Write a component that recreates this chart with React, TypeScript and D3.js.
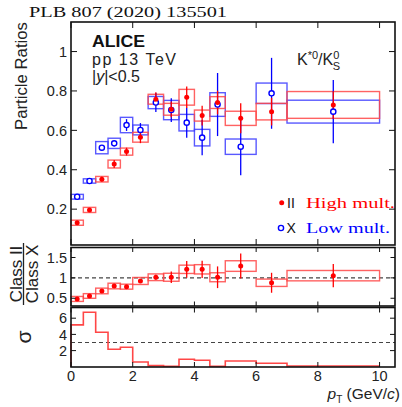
import React from "react";
import * as d3 from "d3";

const binEdges = [0, 0.4, 0.8, 1.2, 1.6, 2.0, 2.5, 3.0, 3.5, 4.0, 4.5, 5.0, 6.0, 7.0, 10.0];

const highVals = [0.131, 0.196, 0.352, 0.429, 0.492, 0.565, 0.758, 0.707, 0.768, 0.675, 0.741, 0.661, 0.695, 0.729];
const highStat = [0.008, 0.008, 0.012, 0.02, 0.02, 0.03, 0.035, 0.04, 0.055, 0.05, 0.06, 0.076, 0.07, 0.07];
const highSys = [0.013, 0.013, 0.014, 0.02, 0.018, 0.025, 0.025, 0.03, 0.04, 0.028, 0.03, 0.036, 0.042, 0.068];

const lowVals = [0.263, 0.343, 0.512, 0.534, 0.627, 0.602, 0.741, 0.703, 0.639, 0.563, 0.731, 0.517, 0.788, 0.695];
const lowStat = [0.006, 0.006, 0.012, 0.015, 0.03, 0.035, 0.048, 0.06, 0.076, 0.09, 0.16, 0.145, 0.18, 0.16];
const lowSys = [0.012, 0.011, 0.031, 0.026, 0.039, 0.025, 0.031, 0.049, 0.042, 0.042, 0.06, 0.039, 0.052, 0.058];

const ratioVals = [0.483, 0.556, 0.679, 0.8, 0.784, 0.924, 1.015, 1.015, 1.21, 1.21, 1.015, 1.29, 0.88, 1.054];
const ratioStat = [0.03, 0.03, 0.035, 0.035, 0.04, 0.05, 0.06, 0.143, 0.204, 0.212, 0.266, 0.306, 0.245, 0.286];
const ratioSys = [0.061, 0.057, 0.069, 0.069, 0.061, 0.086, 0.082, 0.098, 0.102, 0.114, 0.11, 0.13, 0.09, 0.127];

const sigmaVals = [5.17, 6.74, 4.27, 2.16, 2.41, 0.6, 0.14, 0.06, 0.93, 0.8, 0.06, 0.72, 0.43, 0.1];

const xTicks = [0, 2, 4, 6, 8, 10];
const topTicks = [0.2, 0.4, 0.6, 0.8, 1];
const topTickLabels = ["0.2", "0.4", "0.6", "0.8", "1"];
const midTicks = [0.5, 1, 1.5];
const midTickLabels = ["0.5", "1", "1.5"];
const sigTicks = [2, 4, 6];
const sigTickLabels = ["2", "4", "6"];

const RED = "#ff0000";
const BLUE = "#0000ff";
const RED_BOX = "rgb(255,70,70)";
const BLUE_BOX = "rgb(60,60,255)";
const SANS = "'Liberation Sans', Arial, Helvetica, sans-serif";
const SERIF = "'Liberation Serif', 'DejaVu Serif', serif";

export default function App() {
  const W = 402, H = 407;
  const x0 = 71, x1 = 395;
  const x = d3.scaleLinear().domain([0, 10.5]).range([x0, x1]);
  const yTop = d3.scaleLinear().domain([0.018, 1.15]).range([245, 22]);
  const yMid = d3.scaleLinear().domain([0.31, 1.745]).range([306, 247.5]);
  const ySig = d3.scaleLinear().domain([0, 7.32]).range([366.8, 307.5]);

  const centers = binEdges.slice(0, -1).map((e, i) => (e + binEdges[i + 1]) / 2);

  const panels = [
    { y: yTop, top: 22, bottom: 245, ticks: topTicks, labels: topTickLabels, tl: 6 },
    { y: yMid, top: 247.5, bottom: 306, ticks: midTicks, labels: midTickLabels, tl: 4.5 },
    { y: ySig, top: 307.5, bottom: 367, ticks: sigTicks, labels: sigTickLabels, tl: 5 },
  ];

  const sigPts: [number, number][] = [[0, 0]];
  sigmaVals.forEach((v, i) => sigPts.push([binEdges[i], v]));
  sigPts.push([binEdges[binEdges.length - 1], sigmaVals[sigmaVals.length - 1]]);
  const sigLine = d3
    .line<[number, number]>()
    .x((d) => x(d[0]))
    .y((d) => ySig(d[1]))
    .curve(d3.curveStepAfter);

  const boxes = (vals: number[], sys: number[], yS: any, color: string, key: string) =>
    vals.map((v, i) => (
      <rect
        key={key + i}
        x={x(binEdges[i])}
        width={x(binEdges[i + 1]) - x(binEdges[i])}
        y={yS(v + sys[i])}
        height={yS(v - sys[i]) - yS(v + sys[i])}
        fill="none"
        stroke={color}
        strokeWidth={1.4}
        strokeOpacity={0.85}
      />
    ));

  const errs = (vals: number[], stat: number[], yS: any, color: string, key: string) =>
    vals.map((v, i) => (
      <line
        key={key + i}
        x1={x(centers[i])}
        x2={x(centers[i])}
        y1={yS(v - stat[i])}
        y2={yS(v + stat[i])}
        stroke={color}
        strokeWidth={1.3}
      />
    ));

  return (
    <svg width={W} height={H} style={{ position: "absolute", left: 0, top: 0, background: "#fff" }}>
      <rect x={0} y={0} width={W} height={H} fill="#fff" />
      <text x={29} y={17} fontFamily={SERIF} fontSize={15} textLength={198} lengthAdjust="spacingAndGlyphs" fill="#111">
        PLB 807 (2020) 135501
      </text>

      {/* Top panel content */}
      {boxes(lowVals, lowSys, yTop, BLUE_BOX, "lb")}
      {boxes(highVals, highSys, yTop, RED_BOX, "hb")}
      {errs(lowVals, lowStat, yTop, BLUE, "le")}
      {errs(highVals, highStat, yTop, RED, "he")}
      {lowVals.map((v, i) => (
        <circle key={"lc" + i} cx={x(centers[i])} cy={yTop(v)} r={2.6} fill="#fff" stroke={BLUE} strokeWidth={1.4} />
      ))}
      {highVals.map((v, i) => (
        <circle key={"hc" + i} cx={x(centers[i])} cy={yTop(v)} r={2.5} fill={RED} />
      ))}

      {/* Middle panel content */}
      <line x1={x0} x2={x1} y1={yMid(1)} y2={yMid(1)} stroke="#444" strokeWidth={1.2} strokeDasharray="4 3" />
      {boxes(ratioVals, ratioSys, yMid, RED_BOX, "rb")}
      {errs(ratioVals, ratioStat, yMid, RED, "re")}
      {ratioVals.map((v, i) => (
        <circle key={"rc" + i} cx={x(centers[i])} cy={yMid(v)} r={2.5} fill={RED} />
      ))}

      {/* Sigma panel content */}
      <line x1={x0} x2={x1} y1={ySig(3)} y2={ySig(3)} stroke="#444" strokeWidth={1.2} strokeDasharray="4 3" />
      <path d={sigLine(sigPts) || ""} fill="none" stroke={RED_BOX} strokeWidth={1.6} />

      {/* Frames, ticks */}
      {panels.map((p, pi) => (
        <g key={"p" + pi}>
          <rect x={x0} y={p.top} width={x1 - x0} height={p.bottom - p.top} fill="none" stroke="#111" strokeWidth={1.6} />
          {xTicks.map((t) => (
            <g key={"xt" + t}>
              <line x1={x(t)} x2={x(t)} y1={p.bottom} y2={p.bottom - p.tl} stroke="#111" strokeWidth={1} />
              <line x1={x(t)} x2={x(t)} y1={p.top} y2={p.top + p.tl} stroke="#111" strokeWidth={1} />
            </g>
          ))}
          {p.ticks.map((t, i) => (
            <g key={"yt" + t}>
              <line x1={x0} x2={x0 + p.tl} y1={p.y(t)} y2={p.y(t)} stroke="#111" strokeWidth={1} />
              <line x1={x1} x2={x1 - p.tl} y1={p.y(t)} y2={p.y(t)} stroke="#111" strokeWidth={1} />
              <text x={67} y={p.y(t)} dy="0.36em" textAnchor="end" fontFamily={SANS} fontSize={14.5} fill="#222">
                {p.labels[i]}
              </text>
            </g>
          ))}
        </g>
      ))}

      {xTicks.map((t) => (
        <text key={"xl" + t} x={x(t)} y={381} textAnchor="middle" fontFamily={SANS} fontSize={14.5} fill="#222">
          {t}
        </text>
      ))}

      {/* Texts in top panel */}
      <text x={92} y={47} fontFamily={SANS} fontWeight="bold" fontSize={16.5} fill="#111" textLength={53} lengthAdjust="spacingAndGlyphs">
        ALICE
      </text>
      <text x={92} y={64.5} fontFamily={SANS} fontSize={16} fill="#222" textLength={84} lengthAdjust="spacing">
        pp 13 TeV
      </text>
      <text x={92} y={81.5} fontFamily={SANS} fontSize={16} fill="#222">
        |<tspan fontStyle="italic">y</tspan>|&lt;0.5
      </text>
      <text x={297} y={65} fontFamily={SANS} fontSize={16} fill="#222">
        K
        <tspan dy={-6} fontSize={11}>*0</tspan>
        <tspan dy={6}>/K</tspan>
        <tspan dy={-6} fontSize={11}>0</tspan>
        <tspan dx={-6.5} dy={11} fontSize={11}>S</tspan>
      </text>

      {/* Legend */}
      <circle cx={281.7} cy={202.7} r={2.5} fill={RED} />
      <text x={287} y={207.5} fontFamily={SANS} fontSize={14} fill="#111">II</text>
      <text x={306} y={207.5} fontFamily={SERIF} fontSize={15} fill={RED} textLength={89} lengthAdjust="spacingAndGlyphs">
        High mult.
      </text>
      <circle cx={281} cy={228} r={2.6} fill="#fff" stroke={BLUE} strokeWidth={1.4} />
      <text x={286.5} y={232.5} fontFamily={SANS} fontSize={14} fill="#111">X</text>
      <text x={306} y={232.5} fontFamily={SERIF} fontSize={15} fill={BLUE} textLength={84} lengthAdjust="spacingAndGlyphs">
        Low mult.
      </text>

      {/* Y axis labels */}
      <text transform="translate(27,76) rotate(-90)" textAnchor="middle" fontFamily={SANS} fontSize={16} fill="#222" textLength={108} lengthAdjust="spacingAndGlyphs">
        Particle Ratios
      </text>
      <text transform="translate(21.5,274) rotate(-90)" textAnchor="middle" fontFamily={SANS} fontSize={17} fill="#222">
        Class II
      </text>
      <line x1={23.5} x2={23.5} y1={243} y2={305} stroke="#222" strokeWidth={1.3} />
      <text transform="translate(37.5,274) rotate(-90)" textAnchor="middle" fontFamily={SANS} fontSize={17} fill="#222">
        Class X
      </text>
      <text transform="translate(31,337) rotate(-90)" textAnchor="middle" fontFamily={SANS} fontSize={21} fill="#222">
        σ
      </text>

      {/* X axis label */}
      <text x={400} y={398.5} textAnchor="end" fontFamily={SANS} fontSize={15.5} fill="#222">
        <tspan fontStyle="italic">p</tspan>
        <tspan dy={4} fontSize={10}>T</tspan>
        <tspan dy={-4}> (GeV/</tspan>
        <tspan fontStyle="italic">c</tspan>
        <tspan>)</tspan>
      </text>
    </svg>
  );
}
